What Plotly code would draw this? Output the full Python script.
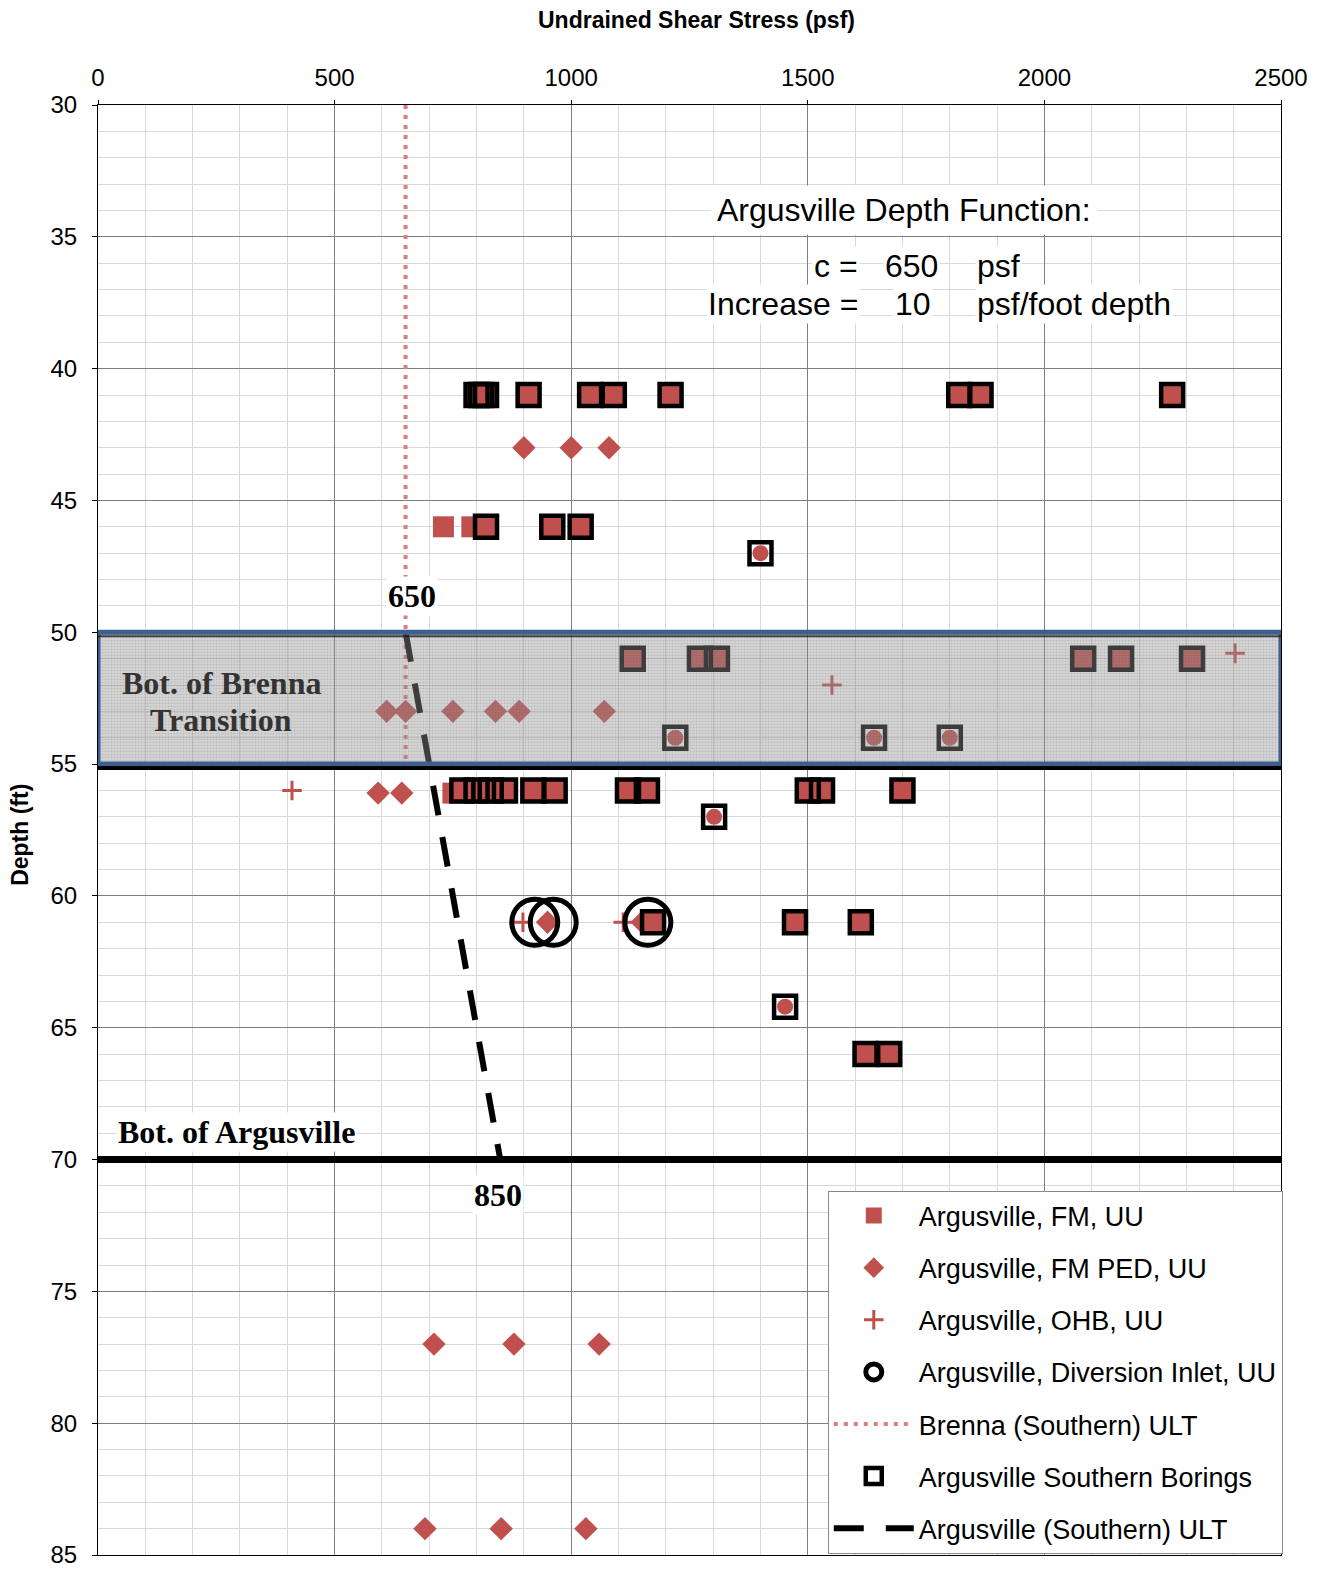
import plotly.graph_objects as go

# ---------------- data ----------------
FM_X = [800, 810, 820, 910, 1040, 1090, 1210, 1820, 1865, 2270,
        730, 790, 820, 960, 1020,
        1130, 1272, 1308, 2082, 2162, 2312,
        750, 770, 800, 830, 860, 920, 965, 1120, 1160, 1500, 1530, 1700,
        1173, 1473, 1612,
        1622, 1672]
FM_D = [41, 41, 41, 41, 41, 41, 41, 41, 41, 41,
        46, 46, 46, 46, 46,
        51, 51, 51, 51, 51, 51,
        56.1, 56, 56, 56, 56, 56, 56, 56, 56, 56, 56, 56,
        61, 61, 61,
        66, 66]

FMC_X = [1400, 1220, 1640, 1800, 1302, 1452]   # red round markers inside borings
FMC_D = [47, 54, 54, 54, 57, 64.2]

PED_X = [900, 1000, 1080,
         610, 650, 750, 840, 890, 1070,
         592, 642,
         950, 1150,
         710, 879, 1059,
         691, 852, 1031]
PED_D = [43, 43, 43,
         53, 53, 53, 53, 53, 53,
         56.1, 56.1,
         61, 61,
         77, 77, 77,
         84, 84, 84]

OHB_X = [2403, 1551, 410, 898, 1110]
OHB_D = [50.8, 52, 56, 61, 61]

DIV_X = [923, 962, 1162]
DIV_D = [61, 61, 61]

BOR_X = [800, 810, 820, 910, 1040, 1090, 1210, 1820, 1865, 2270,
         820, 960, 1020,
         1400,
         1130, 1272, 1308, 2082, 2162, 2312,
         1220, 1640, 1800,
         770, 800, 830, 860, 920, 965, 1120, 1160, 1500, 1530, 1700,
         1302,
         1173, 1473, 1612,
         1452,
         1622, 1672]
BOR_D = [41, 41, 41, 41, 41, 41, 41, 41, 41, 41,
         46, 46, 46,
         47,
         51, 51, 51, 51, 51, 51,
         54, 54, 54,
         56, 56, 56, 56, 56, 56, 56, 56, 56, 56, 56,
         57,
         61, 61, 61,
         64.2,
         66, 66]

BRENNA_X = [650, 650]
BRENNA_D = [30, 55]

ULT_X = [650, 850]
ULT_D = [50, 70]

BAND_D = [50, 55]          # Bot. of Brenna transition zone
ARG_BOTTOM = 70            # Bot. of Argusville
X_RANGE = [0, 2500]
Y_RANGE = [85, 30]

RED = "#C0504D"
SANS = "Liberation Sans, Arial, sans-serif"
SERIF = "Liberation Serif, Times New Roman, serif"

fig = go.Figure()

fig.add_trace(go.Scatter(x=BRENNA_X, y=BRENNA_D, mode="lines", name="Brenna (Southern) ULT",
                         line=dict(color="#E07C7C", width=4, dash="4px,6px"),
                         legendrank=5, legendgroup="g5"))
fig.add_trace(go.Scatter(x=PED_X, y=PED_D, mode="markers", name="Argusville, FM PED, UU",
                         marker=dict(symbol="diamond", size=18, color=RED),
                         legendrank=2, legendgroup="g2"))
fig.add_trace(go.Scatter(x=OHB_X, y=OHB_D, mode="markers", name="Argusville, OHB, UU",
                         marker=dict(symbol="cross-thin", size=14, color=RED,
                                     line=dict(color=RED, width=3)),
                         legendrank=3, legendgroup="g3"))
fig.add_trace(go.Scatter(x=FM_X, y=FM_D, mode="markers", name="Argusville, FM, UU",
                         marker=dict(symbol="square", size=21, color=RED),
                         legendrank=1, legendgroup="g1"))
fig.add_trace(go.Scatter(x=FMC_X, y=FMC_D, mode="markers", showlegend=False,
                         marker=dict(symbol="circle", size=16, color=RED)))
fig.add_trace(go.Scatter(x=BOR_X, y=BOR_D, mode="markers", name="Argusville Southern Borings",
                         marker=dict(symbol="square-open", size=22, color="black",
                                     line=dict(color="black", width=4.5)),
                         legendrank=6, legendgroup="g6"))
fig.add_trace(go.Scatter(x=DIV_X, y=DIV_D, mode="markers", name="Argusville, Diversion Inlet, UU",
                         marker=dict(symbol="circle-open", size=46, color="black",
                                     line=dict(color="black", width=5)),
                         legendrank=4, legendgroup="g4"))
fig.add_trace(go.Scatter(x=ULT_X, y=ULT_D, mode="lines", name="Argusville (Southern) ULT",
                         line=dict(color="black", width=6, dash="30px,22px"),
                         legendrank=7, legendgroup="g7"))
fig.add_trace(go.Scatter(x=X_RANGE, y=[ARG_BOTTOM, ARG_BOTTOM], mode="lines", showlegend=False,
                         hoverinfo="skip", line=dict(color="black", width=7)))

# transition band (drawn on top, semi-transparent pattern)
fig.add_trace(go.Scatter(x=[X_RANGE[0], X_RANGE[1], X_RANGE[1], X_RANGE[0], X_RANGE[0]],
                         y=[BAND_D[0], BAND_D[0], BAND_D[1], BAND_D[1], BAND_D[0]],
                         mode="lines", fill="toself", showlegend=False, hoverinfo="skip",
                         fillcolor="rgba(145,145,145,0.45)",
                         fillpattern=dict(shape=".", bgcolor="rgba(150,150,150,0.40)",
                                          fgcolor="rgba(70,70,70,0.35)", size=3, solidity=0.35),
                         line=dict(color="#3C5F8F", width=5)))

shapes = [
    dict(type="line", xref="x", yref="y", x0=X_RANGE[0], x1=X_RANGE[1], ysizemode="pixel",
         yanchor=BAND_D[0], y0=-4, y1=-4, line=dict(color="rgba(30,30,30,0.8)", width=2), layer="above"),
    dict(type="line", xref="x", yref="y", x0=X_RANGE[0], x1=X_RANGE[1], ysizemode="pixel",
         yanchor=BAND_D[1], y0=-4, y1=-4, line=dict(color="black", width=4), layer="above"),
]

ann = []
ann.append(dict(text="<b>Undrained Shear Stress (psf)</b>", xref="paper", yref="paper",
                x=0.506, y=1.0586, xanchor="center", yanchor="middle", showarrow=False,
                font=dict(family=SANS, size=23, color="black")))
ann.append(dict(text="<b>Depth (ft)</b>", xref="paper", yref="paper", x=-0.066, y=0.4966,
                xanchor="center", yanchor="middle", textangle=-90, showarrow=False,
                font=dict(family=SANS, size=23, color="black")))
ann.append(dict(text="<b>Bot. of Brenna</b>", xref="paper", yref="y", x=0.104, y=51.93,
                xanchor="center", yanchor="middle", showarrow=False,
                font=dict(family=SERIF, size=32, color="#333333")))
ann.append(dict(text="<b>Transition</b>", xref="paper", yref="y", x=0.104, y=53.33,
                xanchor="center", yanchor="middle", showarrow=False,
                font=dict(family=SERIF, size=32, color="#333333")))
ann.append(dict(text="<b>Bot. of Argusville</b>", xref="paper", yref="y", x=0.0152, xanchor="left",
                y=ARG_BOTTOM, yanchor="middle", yshift=28, showarrow=False, bgcolor="white",
                font=dict(family=SERIF, size=32, color="black")))
ann.append(dict(text="<b>650</b>", x=ULT_X[0], y=ULT_D[0], xshift=6, yshift=36, showarrow=False,
                xanchor="center", yanchor="middle", bgcolor="white",
                font=dict(family=SERIF, size=32, color="black")))
ann.append(dict(text="<b>850</b>", x=ULT_X[1], y=ULT_D[1], xshift=-2, yshift=-35, showarrow=False,
                xanchor="center", yanchor="middle", bgcolor="white",
                font=dict(family=SERIF, size=32, color="black")))
ann.append(dict(text="Argusville Depth Function:", x=1703, y=33.98, showarrow=False, bgcolor="white",
                xanchor="center", yanchor="middle", borderpad=6,
                font=dict(family=SANS, size=32, color="black")))
ann.append(dict(text="c =", x=1610, y=36.1, xanchor="right", yanchor="middle", showarrow=False,
                bgcolor="white", font=dict(family=SANS, size=32, color="black")))
ann.append(dict(text="650", x=1720, y=36.1, xanchor="center", yanchor="middle", showarrow=False,
                bgcolor="white", font=dict(family=SANS, size=32, color="black")))
ann.append(dict(text="psf", x=1853, y=36.1, xanchor="left", yanchor="middle", showarrow=False,
                bgcolor="white", font=dict(family=SANS, size=32, color="black")))
ann.append(dict(text="Increase =", x=1610, y=37.55, xanchor="right", yanchor="middle", showarrow=False,
                bgcolor="white", font=dict(family=SANS, size=32, color="black")))
ann.append(dict(text="10", x=1722, y=37.55, xanchor="center", yanchor="middle", showarrow=False,
                bgcolor="white", font=dict(family=SANS, size=32, color="black")))
ann.append(dict(text="psf/foot depth", x=1853, y=37.55, xanchor="left", yanchor="middle",
                showarrow=False, bgcolor="white", font=dict(family=SANS, size=32, color="black")))

fig.update_layout(
    width=1306, height=1561,
    margin=dict(l=90, r=33, t=97, b=14, autoexpand=False),
    paper_bgcolor="white", plot_bgcolor="white",
    annotations=ann, shapes=shapes,
    showlegend=True,
    legend=dict(x=1.0015, y=0.001, xanchor="right", yanchor="bottom",
                bgcolor="white", bordercolor="#888888", borderwidth=1,
                font=dict(family=SANS, size=27, color="black"),
                tracegroupgap=14, itemwidth=80),
    xaxis=dict(range=X_RANGE, side="top", dtick=500, tick0=0, automargin=False,
               showgrid=True, gridcolor="#7f7f7f", gridwidth=1,
               minor=dict(dtick=100, showgrid=True, gridcolor="#d9d9d9", gridwidth=1),
               showline=True, linecolor="black", linewidth=1, mirror=True,
               ticks="outside", ticklen=4, tickcolor="black", ticklabelstandoff=4,
               tickfont=dict(family=SANS, size=24, color="black"), zeroline=False),
    yaxis=dict(range=Y_RANGE, dtick=5, tick0=30, automargin=False,
               showgrid=True, gridcolor="#7f7f7f", gridwidth=1,
               minor=dict(dtick=1, showgrid=True, gridcolor="#d9d9d9", gridwidth=1),
               showline=True, linecolor="black", linewidth=1, mirror=True,
               ticks="outside", ticklen=5, tickcolor="black", ticklabelstandoff=10,
               tickfont=dict(family=SANS, size=24, color="black"), zeroline=False),
)

fig.write_html("out.html")
